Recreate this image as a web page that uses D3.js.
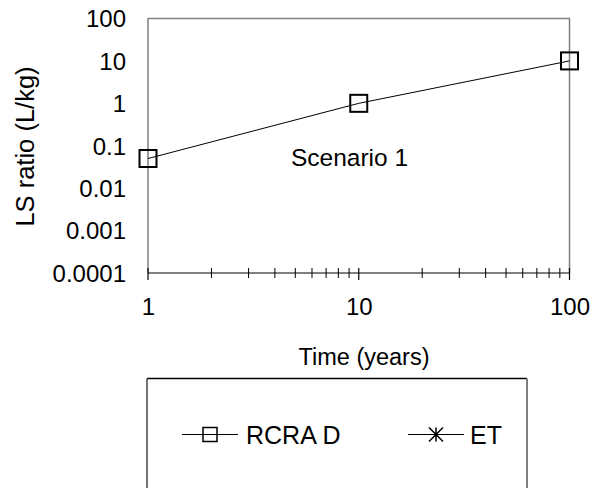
<!DOCTYPE html>
<html>
<head>
<meta charset="utf-8">
<script src="https://cdn.jsdelivr.net/npm/d3@7"></script>
<style>
  html, body { margin: 0; padding: 0; background: #fff; }
  svg text { font-family: "Liberation Sans", Arial, sans-serif; fill: #000; }
</style>
</head>
<body>
<svg id="chart" width="592" height="488"></svg>
<script>
// Leaching: liquid-to-solid ratio over time (log-log)
const timeYears = [1, 10, 100];
const lsRatio = [0.05, 1, 10];
const seriesNames = ["RCRA D", "ET"];
const xTickLabels = ["1", "10", "100"];
const yTickValues = [100, 10, 1, 0.1, 0.01, 0.001, 0.0001];
const yTickLabels = ["100", "10", "1", "0.1", "0.01", "0.001", "0.0001"];
const xMinorTicks = [2, 3, 4, 5, 6, 7, 8, 9, 20, 30, 40, 50, 60, 70, 80, 90];

const svg = d3.select("#chart");
const plot = { left: 148, right: 569.5, top: 18.5, bottom: 273 };

const x = d3.scaleLog().domain([1, 100]).range([plot.left, plot.right]);
const y = d3.scaleLog().domain([0.0001, 100]).range([plot.bottom, plot.top]);

// plot frame (top, left, right in grey)
svg.append("path")
  .attr("d", `M${plot.left},${plot.bottom}V${plot.top}H${plot.right}V${plot.bottom}`)
  .attr("fill", "none").attr("stroke", "#808080").attr("stroke-width", 1.5);

// x axis line with crossing ticks
const xAxisG = svg.append("g");
xAxisG.append("line")
  .attr("x1", plot.left).attr("x2", plot.right)
  .attr("y1", plot.bottom).attr("y2", plot.bottom)
  .attr("stroke", "#000").attr("stroke-width", 1.2);
xAxisG.selectAll("line.minor").data(xMinorTicks).join("line")
  .attr("class", "minor")
  .attr("x1", d => x(d)).attr("x2", d => x(d))
  .attr("y1", plot.bottom - 5).attr("y2", plot.bottom + 5)
  .attr("stroke", "#000").attr("stroke-width", 1);
xAxisG.selectAll("line.major").data(timeYears).join("line")
  .attr("class", "major")
  .attr("x1", d => x(d)).attr("x2", d => x(d))
  .attr("y1", plot.bottom - 5).attr("y2", plot.bottom + 7)
  .attr("stroke", "#000").attr("stroke-width", 1.2);

// x tick labels via d3 axis
const xAxis = d3.axisBottom(x)
  .tickValues(timeYears)
  .tickFormat((d, i) => xTickLabels[i])
  .tickSize(0).tickPadding(0);
const xg = svg.append("g").attr("transform", `translate(0,${plot.bottom + 25})`).call(xAxis);
xg.select(".domain").remove();
xg.selectAll("text").attr("font-size", 24).attr("dy", "0.71em")
  .style("font-family", "'Liberation Sans', Arial, sans-serif");

// y tick labels via d3 axis
const yAxis = d3.axisLeft(y)
  .tickValues(yTickValues)
  .tickFormat((d, i) => yTickLabels[i])
  .tickSize(0).tickPadding(0);
const yg = svg.append("g").attr("transform", `translate(${plot.left - 22},0)`).call(yAxis);
yg.select(".domain").remove();
yg.selectAll("text").attr("font-size", 24).attr("dy", "0.35em")
  .style("font-family", "'Liberation Sans', Arial, sans-serif");

// axis titles
svg.append("text")
  .attr("x", 364).attr("y", 365)
  .attr("text-anchor", "middle").attr("font-size", 23.5)
  .text("Time (years)");
svg.append("text")
  .attr("transform", `translate(34,146.5) rotate(-90)`)
  .attr("text-anchor", "middle").attr("font-size", 25.5)
  .text("LS ratio (L/kg)");

// scenario annotation
svg.append("text")
  .attr("x", 349.5).attr("y", 166)
  .attr("text-anchor", "middle").attr("font-size", 24.5)
  .text("Scenario 1");

// data series: line and square markers
const pts = timeYears.map((t, i) => [t, lsRatio[i]]);
svg.append("path")
  .datum(pts)
  .attr("d", d3.line().x(d => x(d[0])).y(d => y(d[1])))
  .attr("fill", "none").attr("stroke", "#000").attr("stroke-width", 1);
const sq = 17;
svg.selectAll("rect.marker").data(pts).join("rect")
  .attr("class", "marker")
  .attr("x", d => x(d[0]) - sq / 2).attr("y", d => y(d[1]) - sq / 2)
  .attr("width", sq).attr("height", sq)
  .attr("fill", "none").attr("stroke", "#000").attr("stroke-width", 2);

// legend box
const lg = { left: 147, top: 378.5, right: 527, bottom: 500 };
svg.append("line").attr("x1", lg.left).attr("x2", lg.right).attr("y1", lg.top).attr("y2", lg.top)
  .attr("stroke", "#000").attr("stroke-width", 1.5);
svg.append("line").attr("x1", lg.left).attr("x2", lg.left).attr("y1", lg.top).attr("y2", lg.bottom)
  .attr("stroke", "#444").attr("stroke-width", 1.5);
svg.append("line").attr("x1", lg.right).attr("x2", lg.right).attr("y1", lg.top).attr("y2", lg.bottom)
  .attr("stroke", "#808080").attr("stroke-width", 2);

const legendY = 434.5;
const legendItems = [
  { name: seriesNames[0], x0: 182, x1: 238, tx: 246, marker: "square" },
  { name: seriesNames[1], x0: 408, x1: 464, tx: 470, marker: "star" }
];
legendItems.forEach(it => {
  const g = svg.append("g");
  g.append("line").attr("x1", it.x0).attr("x2", it.x1).attr("y1", legendY).attr("y2", legendY)
    .attr("stroke", "#000").attr("stroke-width", 1);
  const cx = (it.x0 + it.x1) / 2;
  if (it.marker === "square") {
    g.append("rect").attr("x", cx - 7).attr("y", legendY - 7).attr("width", 14).attr("height", 14)
      .attr("fill", "none").attr("stroke", "#000").attr("stroke-width", 1.5);
  } else {
    const r = 7;
    g.append("path")
      .attr("d", `M${cx - r},${legendY - r}L${cx + r},${legendY + r}M${cx - r},${legendY + r}L${cx + r},${legendY - r}M${cx},${legendY - r}V${legendY + r}`)
      .attr("stroke", "#000").attr("stroke-width", 1.5).attr("fill", "none");
  }
  g.append("text").attr("x", it.tx).attr("y", legendY + 9).attr("font-size", 25).text(it.name);
});
</script>
</body>
</html>
